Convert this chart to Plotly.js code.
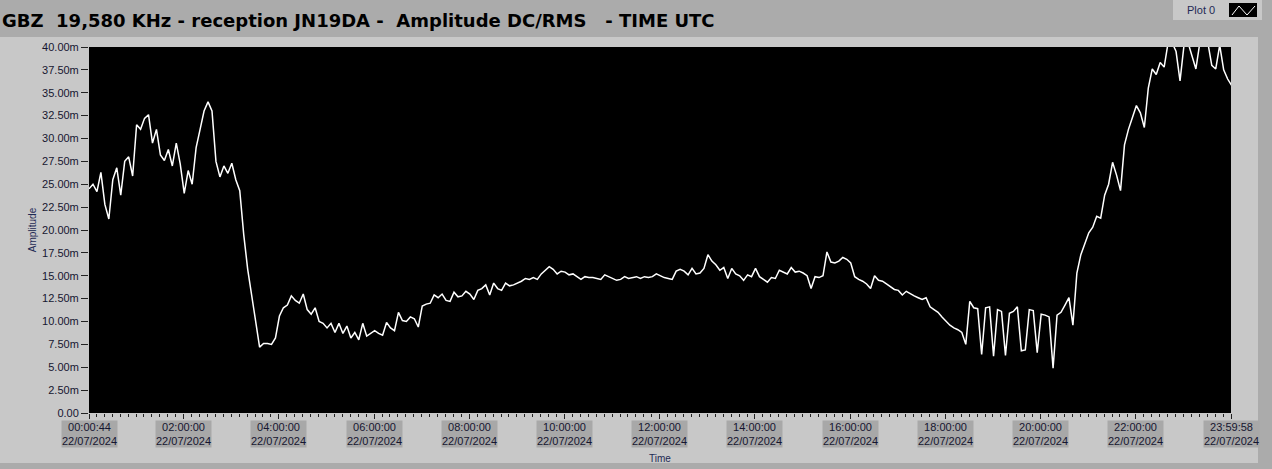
<!DOCTYPE html>
<html>
<head>
<meta charset="utf-8">
<script src="https://cdn.plot.ly/plotly-3.0.1.min.js"></script>
<style>html,body{margin:0;padding:0;background:#ABABAB;}#chart{width:1272px;height:469px;}</style>
</head>
<body>
<div id="chart"></div>
<script>
// ---- data (amplitude in mV, one sample every 5 minutes from 00:00:44 UTC, 22/07/2024) ----
const startTime = '2024-07-22 00:00:44';
const endTime = '2024-07-22 23:59:58';
const sampleStepMinutes = 5;
const amplitude = [
 24.5,25.0,24.2,26.3,22.8,21.2,25.5,26.8,23.8,27.5,28.0,25.9,31.5,31.0,32.2,32.6,29.5,31.0,28.2,27.6,28.8,27.0,29.5,27.2,
 24.0,26.5,25.0,29.0,31.0,33.0,34.0,33.0,27.5,25.8,27.0,26.2,27.3,25.5,24.3,19.5,15.7,12.8,10.3,7.2,7.6,7.6,7.5,8.2,
 10.6,11.5,11.8,12.8,12.3,12.0,13.0,11.3,10.8,11.5,10.0,9.8,9.3,9.8,8.8,9.8,8.7,9.5,8.2,8.8,8.0,9.8,8.4,8.7,
 9.0,8.7,8.5,9.9,9.3,9.0,11.0,10.1,10.0,10.5,10.3,9.4,11.7,11.9,12.0,12.9,12.6,13.0,12.3,12.2,13.2,12.7,12.8,13.3,
 13.0,12.4,13.4,13.6,14.0,12.9,14.2,13.6,13.4,14.2,13.9,14.0,14.2,14.4,14.7,14.6,14.8,14.6,15.2,15.6,16.0,15.7,15.2,15.5,
 15.4,15.1,15.2,14.9,14.6,14.9,14.8,14.8,14.7,14.6,15.1,14.9,14.7,14.5,14.6,14.9,14.7,14.8,14.9,14.7,14.9,14.8,14.9,15.2,
 15.0,14.8,14.7,14.6,15.5,15.7,15.5,15.1,15.8,15.2,15.3,15.8,17.3,16.6,16.2,15.6,15.9,14.7,15.8,15.2,15.0,14.5,15.1,14.9,
 15.8,14.9,14.6,14.3,14.8,14.7,15.6,15.4,15.2,15.9,15.4,15.5,15.3,15.0,13.6,14.9,14.8,15.0,17.6,16.5,16.4,16.6,17.0,16.8,
 16.4,14.9,14.6,14.4,14.1,13.6,15.0,14.5,14.4,14.1,13.8,13.5,13.4,12.9,13.3,13.0,12.8,12.6,12.4,12.6,11.6,11.3,11.0,10.5,
 10.0,9.6,9.3,9.1,8.8,7.5,12.2,11.5,11.4,6.4,11.5,11.6,6.2,11.3,11.1,6.3,10.9,11.1,11.6,6.8,6.9,11.3,11.2,6.6,
 10.8,10.7,10.5,4.9,10.7,11.0,11.8,12.6,9.6,15.3,17.3,18.5,19.7,20.3,21.5,21.3,23.8,25.0,27.4,26.0,24.3,29.3,31.0,32.3,
 33.6,32.8,31.2,35.5,37.6,37.0,38.3,37.8,40.5,40.5,39.5,36.3,40.2,40.5,39.0,37.6,40.5,40.5,40.5,38.0,37.6,40.2,37.5,36.5,
 35.8
];
const yTickVals = [0,2.5,5,7.5,10,12.5,15,17.5,20,22.5,25,27.5,30,32.5,35,37.5,40];
const yTickText = ['0.00','2.50m','5.00m','7.50m','10.00m','12.50m','15.00m','17.50m','20.00m','22.50m','25.00m','27.50m','30.00m','32.50m','35.00m','37.50m','40.00m'];
const xTickTimes = ['00:00:44','02:00:00','04:00:00','06:00:00','08:00:00','10:00:00','12:00:00','14:00:00','16:00:00','18:00:00','20:00:00','22:00:00','23:59:58'];
const xTickDate = '22/07/2024';
const isoDate = '2024-07-22';
const titleText = 'GBZ\u00a0\u00a019,580 KHz - reception JN19DA -\u00a0\u00a0Amplitude DC/RMS\u00a0\u00a0\u00a0- TIME UTC';
const seriesName = 'Plot 0';

// ---- build ----
const t0 = Date.parse(startTime.replace(' ', 'T') + 'Z');
const times = amplitude.map((_, i) => new Date(t0 + i * sampleStepMinutes * 60000).toISOString().replace('T', ' ').replace('Z', ''));
const xTickVals = xTickTimes.map(t => isoDate + ' ' + t);

const W = 1272, H = 469;
const M = {l: 89, r: 41, t: 47, b: 56};
const PW = W - M.l - M.r, PH = H - M.t - M.b;
const px = v => (v - M.l) / PW;          // pixel x -> paper
const py = v => (H - M.b - v) / PH;      // pixel y -> paper

const labelFont = {family: 'Liberation Sans, Arial, sans-serif', size: 11, color: '#161630'};

const annotations = xTickVals.map((v, i) => ({
  x: v, xref: 'x', y: py(434), yref: 'paper', yanchor: 'middle', xanchor: 'center',
  text: xTickTimes[i] + '<br>' + xTickDate, showarrow: false,
  bgcolor: '#A8A8A8', borderpad: 0, font: labelFont, align: 'center'
}));
annotations.push({
  x: px(1201), xref: 'paper', y: py(10), yref: 'paper', xanchor: 'center', yanchor: 'middle',
  text: seriesName, showarrow: false, font: {family: 'Liberation Sans, Arial, sans-serif', size: 11, color: '#1F2A55'}
});

const shapes = [
  // panel
  {type: 'rect', xref: 'paper', yref: 'paper', x0: px(0), x1: px(1258), y0: py(463), y1: py(37), fillcolor: '#C8C8C8', line: {width: 0}, layer: 'below'},
  // plot area
  {type: 'rect', xref: 'paper', yref: 'paper', x0: 0, x1: 1, y0: 0, y1: 1, fillcolor: '#000000', line: {width: 0}, layer: 'below'},
  // legend box
  {type: 'rect', xref: 'paper', yref: 'paper', x0: px(1173), x1: px(1262), y0: py(20), y1: py(0), fillcolor: '#C8C8C8', line: {width: 0}, layer: 'below'},
  {type: 'rect', xref: 'paper', yref: 'paper', x0: px(1229), x1: px(1257), y0: py(17), y1: py(3), fillcolor: '#000000', line: {width: 0}, layer: 'above'},
  {type: 'path', xref: 'paper', yref: 'paper',
   path: `M ${px(1232)} ${py(15)} L ${px(1239)} ${py(6)} L ${px(1247)} ${py(15)} L ${px(1255)} ${py(6)}`,
   line: {color: '#FFFFFF', width: 1}, layer: 'above'}
];

const trace = {
  x: times, y: amplitude, type: 'scatter', mode: 'lines', name: seriesName,
  line: {color: '#FFFFFF', width: 1.5}, hoverinfo: 'x+y'
};

const layout = {
  width: W, height: H, margin: M,
  paper_bgcolor: '#ABABAB', plot_bgcolor: '#000000',
  showlegend: false,
  title: {text: titleText, x: 2 / W, xref: 'container', xanchor: 'left',
          y: 1 - 21 / H, yref: 'container', yanchor: 'middle',
          font: {family: 'DejaVu Sans, Verdana, sans-serif', size: 18, color: '#000000', weight: 'bold'}},
  xaxis: {
    type: 'date', range: [startTime, endTime], showgrid: false, zeroline: false, showline: false,
    tickvals: xTickVals, ticktext: xTickTimes, showticklabels: false,
    ticks: 'outside', ticklen: 5, tickcolor: '#222222', tickwidth: 1,
    minor: {dtick: 600000, ticks: 'outside', ticklen: 3, tickcolor: '#222222', showgrid: false},
    title: {text: 'Time', font: {family: 'Liberation Sans, Arial, sans-serif', size: 10, color: '#1F2A55'}, standoff: 36}
  },
  yaxis: {
    range: [0, 40], showgrid: false, zeroline: false, showline: false,
    tickvals: yTickVals, ticktext: yTickText, tickfont: labelFont,
    ticks: 'outside', ticklen: 7, tickcolor: '#222222', tickwidth: 1,
    title: {text: 'Amplitude', font: {family: 'Liberation Sans, Arial, sans-serif', size: 10, color: '#1F2A55'}, standoff: 3}
  },
  annotations: annotations,
  shapes: shapes
};

Plotly.newPlot('chart', [trace], layout, {displayModeBar: false, staticPlot: true});
</script>
</body>
</html>
